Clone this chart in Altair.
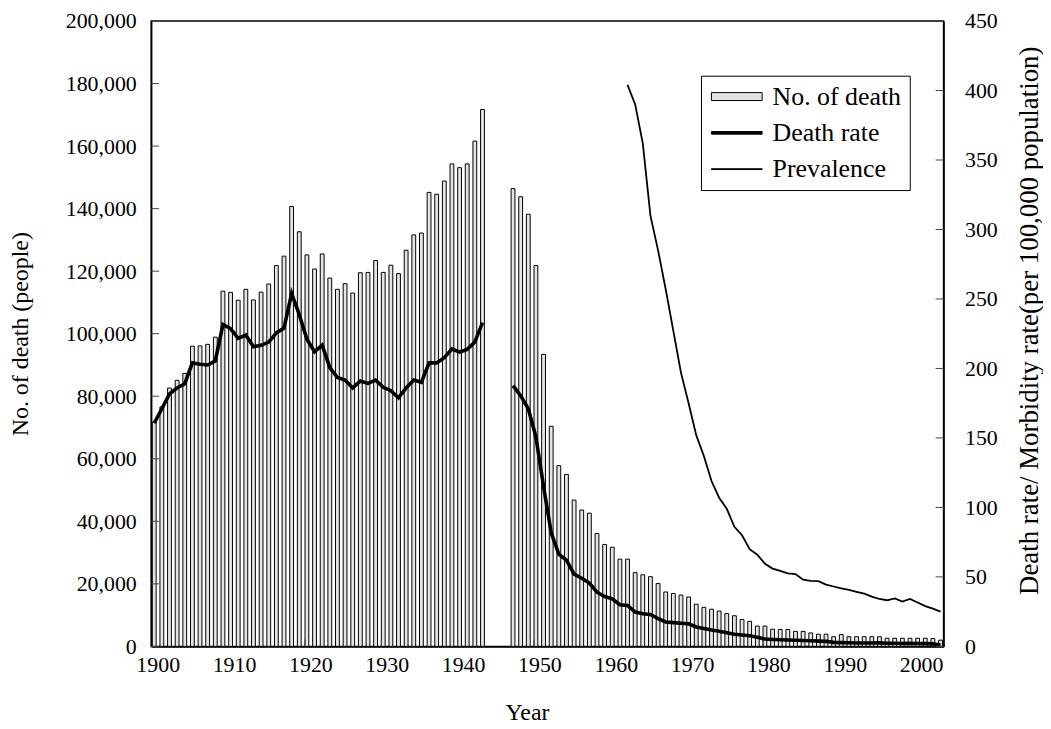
import altair as alt
import pandas as pd

# ---------------- data ----------------
all_years = list(range(1900, 2004))
decade_years = list(range(1900, 2001, 10))

prewar_years = list(range(1900, 1944))
postwar_years = list(range(1947, 2004))

deaths_prewar = [
    71700, 76600, 82600, 85100, 87300, 96000, 96100, 96600, 98900, 113600,
    113200, 110700, 114200, 110800, 113300, 115900, 121800, 124800, 140700, 132600,
    125200, 120700, 125500, 117800, 114200, 116000, 113000, 119500, 119600, 123400,
    119600, 121900, 119200, 126700, 131600, 132200, 145200, 144600, 148800, 154300,
    153100, 154300, 161600, 171700,
]
deaths_postwar = [
    146400, 143800, 138200, 121800, 93400, 70400, 57800, 55000, 46800, 43600,
    42600, 36100, 32600, 31700, 27900, 27900, 23600, 22900, 22300, 20100,
    17400, 16900, 16400, 15800, 13500, 12500, 11900, 11300, 10500, 9800,
    8600, 8000, 6500, 6500, 5500, 5400, 5400, 4800, 4800, 4300,
    3900, 3900, 3100, 3800, 3100, 3100, 3100, 3100, 3100, 2600,
    2600, 2600, 2600, 2600, 2600, 2500, 2000,
]
rate_prewar = [
    160.7, 171.0, 181.6, 186.0, 189.0, 204.0, 203.0, 202.5, 205.4, 231.6,
    228.7, 221.6, 224.0, 215.6, 216.6, 219.0, 225.6, 229.0, 254.0, 238.7,
    221.0, 212.0, 216.8, 200.6, 193.5, 191.6, 186.0, 191.0, 189.2, 191.6,
    186.4, 184.0, 178.8, 186.0, 191.6, 190.0, 204.0, 204.0, 207.8, 214.0,
    211.8, 213.7, 219.0, 233.0,
]
rate_postwar = [
    187.6, 180.4, 171.0, 150.7, 115.0, 81.8, 66.3, 62.0, 52.0, 49.0,
    45.6, 39.0, 35.9, 34.2, 30.0, 29.5, 24.7, 23.5, 23.0, 20.0,
    17.6, 17.1, 16.6, 16.2, 14.0, 12.8, 11.8, 10.9, 9.8, 8.8,
    8.2, 7.6, 6.5, 5.3, 5.0, 4.8, 4.6, 4.4, 4.2, 4.0,
    3.8, 3.6, 2.9, 2.7, 2.6, 2.5, 2.4, 2.4, 2.5, 2.2,
    2.2, 2.1, 2.3, 2.1, 2.0, 1.8, 1.0,
]
prev_years = list(range(1962, 2004))
prevalence = [
    404, 390, 362, 310, 285, 257, 227, 197, 175, 152,
    137, 119, 107, 99, 86, 80, 70, 66, 59.5, 56,
    54.3, 52.6, 52, 48, 47.1, 46.9, 44.5, 43.1, 41.8, 40.6,
    39.3, 38, 35.8, 34.1, 33.2, 34.5, 32.3, 34.2, 31.6, 29,
    27.2, 25,
]

left_ticks = list(range(0, 200001, 20000))
right_ticks = list(range(0, 451, 50))
legend_names = ["No. of death", "Death rate", "Prevalence"]

# ---------------- tables ----------------
df = pd.DataFrame({
    "year": prewar_years + postwar_years,
    "deaths": deaths_prewar + deaths_postwar,
    "rate": rate_prewar + rate_postwar,
    "period": ["pre"] * len(prewar_years) + ["post"] * len(postwar_years),
})
prev_df = pd.DataFrame({"year": prev_years, "rate": prevalence})
lt_df = pd.DataFrame({"deaths": left_ticks})
rt_df = pd.DataFrame({"rate": right_ticks})
xt_df = pd.DataFrame({"year": decade_years[1:]})
leg_df = pd.DataFrame({"series": legend_names})

FONT = "Liberation Serif"
W, H = 797, 629

xscale = alt.Scale(domain=all_years, paddingInner=0.5, paddingOuter=0.15)
x_axis = alt.Axis(values=decade_years, labelAngle=0, ticks=False, labelPadding=8,
                  labelOffset=4, title="Year", titleX=378, titlePadding=26)

lscale = alt.Scale(domain=[0, 200000], nice=False)
rscale = alt.Scale(domain=[0, 450], nice=False)
l_axis = alt.Axis(values=left_ticks, format=",d", ticks=False, labelPadding=15,
                  title="No. of death (people)", titlePadding=33)
r_axis = alt.Axis(values=right_ticks, orient="right", ticks=False, labelPadding=21,
                  title="Death rate/ Morbidity rate(per 100,000 population)",
                  titleAngle=270, titleBaseline="top", titlePadding=19,
                  titleFontSize=27, titleY=301)


def xe(**kw):
    return alt.X("year:O", scale=xscale, axis=x_axis, **kw)


bars = alt.Chart(df).mark_bar(fill="#e4e4e4", stroke="black", strokeWidth=1).encode(
    x=xe(), y=alt.Y("deaths:Q", scale=lscale, axis=l_axis),
)
lticks = alt.Chart(lt_df).mark_rule(color="#444", strokeWidth=1).encode(
    y=alt.Y("deaths:Q", scale=lscale, axis=l_axis), x=alt.value(0), x2=alt.value(8)
)
xticks = alt.Chart(xt_df).mark_rule(color="#444", strokeWidth=1).encode(
    x=xe(bandPosition=0), y=alt.value(H - 7), y2=alt.value(H),
)

rate_line = alt.Chart(df).mark_line(color="black", strokeWidth=3.6).encode(
    x=xe(), y=alt.Y("rate:Q", scale=rscale, axis=r_axis), detail="period:N",
)
prev_line = alt.Chart(prev_df).mark_line(color="black", strokeWidth=1.8).encode(
    x=xe(), y=alt.Y("rate:Q", scale=rscale, axis=r_axis)
)
rticks = alt.Chart(rt_df).mark_rule(color="#444", strokeWidth=1).encode(
    y=alt.Y("rate:Q", scale=rscale, axis=r_axis), x=alt.value(W - 8), x2=alt.value(W)
)

# legend symbols: custom paths (unit = sqrt(symbolSize)/2 = 10 px)
p_bar = "M-2.55,-0.4L2.55,-0.4L2.55,0.4L-2.55,0.4Z"
p_thick = "M-2.55,-0.13L2.55,-0.13L2.55,0.13L-2.55,0.13Z"
p_thin = "M-2.55,-0.04L2.55,-0.04L2.55,0.04L-2.55,0.04Z"

leg_kw = dict(title=None, orient="none", legendX=553, legendY=55, direction="vertical",
              fillColor="white", strokeColor="black", padding=8, rowPadding=10.5,
              symbolSize=400, symbolStrokeWidth=1,
              symbolOffset=15, labelOffset=23, labelFont=FONT, labelFontSize=26,
              labelColor="black", labelLimit=400, symbolOpacity=1)

legend_layer = alt.Chart(leg_df).transform_filter("false").mark_point(
    filled=True, strokeWidth=1
).encode(
    fill=alt.Fill("series:N", scale=alt.Scale(domain=legend_names,
                                              range=["#e4e4e4", "black", "black"]),
                  legend=alt.Legend(**leg_kw)),
    stroke=alt.Stroke("series:N", scale=alt.Scale(domain=legend_names,
                                                  range=["black", "black", "black"]),
                      legend=alt.Legend(**leg_kw)),
    shape=alt.Shape("series:N", scale=alt.Scale(domain=legend_names,
                                                range=[p_bar, p_thick, p_thin]),
                    legend=alt.Legend(**leg_kw)),
)

left = alt.layer(bars, lticks, xticks)
right = alt.layer(rate_line, prev_line, rticks)

chart = alt.layer(left, right, legend_layer).resolve_scale(y="independent").properties(
    width=W, height=H, background="white",
    autosize=alt.AutoSizeParams(type="none"),
    padding={"left": 144, "top": 11, "right": 100, "bottom": 81},
).configure_view(stroke="black", strokeWidth=1.5).configure_axis(
    labelFont=FONT, titleFont=FONT, labelFontSize=22, titleFontSize=24,
    titleFontWeight="normal", labelColor="black", titleColor="black",
    domainColor="black", domainWidth=1.5, grid=False,
)

chart.save("out.html", embed_options={"renderer": "svg", "actions": False})
